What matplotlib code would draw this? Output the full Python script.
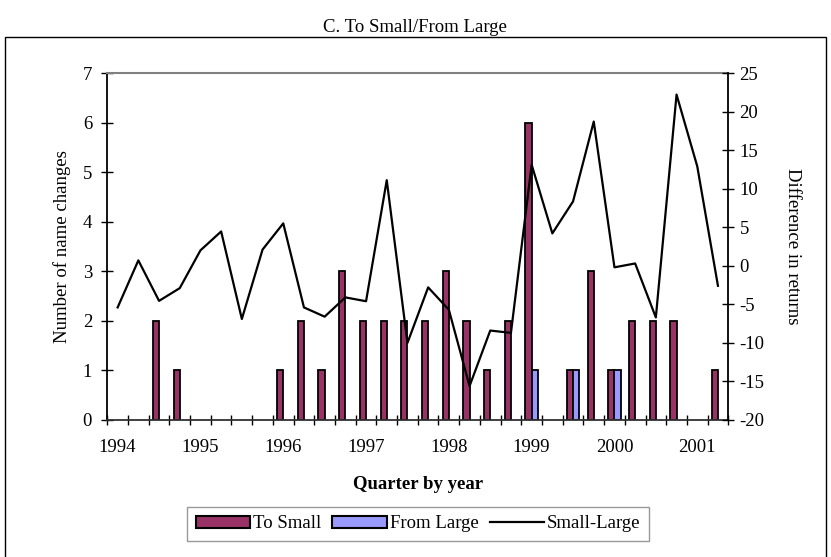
import numpy as np
import matplotlib.pyplot as plt
from matplotlib.patches import Rectangle, Patch
from matplotlib.lines import Line2D

# quarterly data, 1994Q1 .. 2001Q2
years = ['1994', '1995', '1996', '1997', '1998', '1999', '2000', '2001']
to_small = [0, 0, 2, 1, 0, 0, 0, 0, 1, 2, 1, 3, 2, 2, 2,
            2, 3, 2, 1, 2, 6, 0, 1, 3, 1, 2, 2, 2, 0, 1]
from_large = [0, 0, 0, 0, 0, 0, 0, 0, 0, 0, 0, 0, 0, 0, 0,
              0, 0, 0, 0, 0, 1, 0, 1, 0, 1, 0, 0, 0, 0, 0]
small_large = [-5.4, 0.7, -4.55, -2.9, 2.0, 4.45, -6.9, 2.1, 5.5, -5.4,
               -6.6, -4.1, -4.6, 11.1, -10.0, -2.8, -5.7, -15.6, -8.4, -8.7,
               13.1, 4.2, 8.35, 18.7, -0.2, 0.3, -6.7, 22.2, 12.9, -2.6]

plt.rcParams['font.family'] = ['Liberation Serif', 'DejaVu Serif']
plt.rcParams['axes.unicode_minus'] = False
fs = 13.5
W, H = 831, 557

fig = plt.figure(figsize=(W / 100, H / 100), dpi=100)
fig.patch.set_facecolor('white')

# outer chart border (bottom edge falls outside the image)
fig.patches.append(Rectangle((5 / W, -0.1), 821 / W, 1 - 36.5 / H + 0.1,
                             transform=fig.transFigure, fill=False,
                             edgecolor='black', linewidth=1.0))

ax = fig.add_axes([107.3 / W, 137 / H, 621 / W, 347 / H])
x = np.arange(len(to_small))
ts = np.array(to_small)
fl = np.array(from_large)

# Excel draws nothing for zero counts
m1 = ts > 0
m2 = fl > 0
ax.bar(x[m1] - 0.15, ts[m1], width=0.3, color='#993366',
       edgecolor='black', linewidth=1.3, zorder=2)
ax.bar(x[m2] + 0.15, fl[m2], width=0.3, color='#9999FF',
       edgecolor='black', linewidth=1.3, zorder=2)

ax.set_xlim(-0.5, len(to_small) - 0.5)
ax.set_ylim(0, 7)
ax.set_yticks(range(0, 8))
ax.set_xticks(np.arange(-0.5, len(to_small), 1.0))
ax.set_xticklabels([])
ax.set_xticks(np.arange(0, len(to_small), 4), minor=True)
ax.set_xticklabels(years, minor=True)
ax.tick_params(axis='x', which='major', direction='inout', length=6.7,
               width=1.0, color='black')
ax.tick_params(axis='x', which='minor', length=0, pad=14, labelsize=fs)
ax.tick_params(axis='y', direction='inout', length=9, width=1.0,
               pad=6.5, labelsize=fs)

ax.spines['top'].set_color('#808080')
ax.spines['top'].set_linewidth(1.5)
ax.spines['right'].set_visible(False)
ax.spines['left'].set_linewidth(1.3)
ax.spines['bottom'].set_linewidth(1.3)
ax.spines['bottom'].set_color('#303030')

ax2 = ax.twinx()
ax2.plot(x, small_large, color='black', linewidth=1.6, zorder=3)
ax2.set_ylim(-20, 25)
ax2.set_yticks(range(-20, 26, 5))
ax2.tick_params(axis='y', direction='inout', length=9, width=1.0,
                pad=3.6, labelsize=fs)
ax2.spines['right'].set_linewidth(1.3)
for s in ['top', 'left', 'bottom']:
    ax2.spines[s].set_visible(False)

fig.text(415 / W, 1 - 32 / H, 'C. To Small/From Large', ha='center',
         va='baseline', fontsize=fs)
fig.text(62 / W, 1 - 246.5 / H, 'Number of name changes', rotation=90,
         ha='center', va='center', fontsize=fs)
fig.text(793 / W, 1 - 246.5 / H, 'Difference in returns', rotation=-90,
         ha='center', va='center', fontsize=fs)
fig.text(418 / W, 1 - 489 / H, 'Quarter by year', ha='center',
         va='baseline', fontsize=fs, fontweight='bold')

handles = [Patch(facecolor='#993366', edgecolor='black', linewidth=1.5),
           Patch(facecolor='#9999FF', edgecolor='black', linewidth=1.5),
           Line2D([], [], color='black', linewidth=1.6)]
leg = fig.legend(handles, ['To Small', 'From Large', 'Small-Large'],
                 loc='center', bbox_to_anchor=(418 / W, 1 - 523.7 / H),
                 ncol=3, fontsize=fs, frameon=True, fancybox=False,
                 edgecolor='#808080', handlelength=2.9, handleheight=0.6,
                 handletextpad=0.15, columnspacing=0.6, borderpad=0.45,
                 borderaxespad=0)
leg.get_frame().set_linewidth(1.0)

fig.savefig('out.png', dpi=100, facecolor='white')
